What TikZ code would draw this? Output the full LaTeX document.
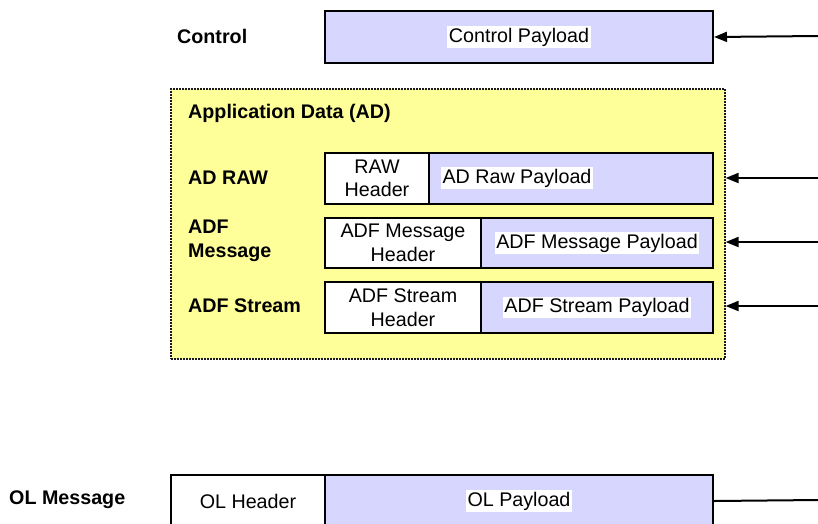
\documentclass[tikz,border=0pt]{standalone}
\usepackage{fontspec}
\setmainfont{Liberation Sans}
\usetikzlibrary{arrows.meta}
\definecolor{payload}{RGB}{214,214,255}
\definecolor{adyellow}{RGB}{255,255,153}

\begin{document}
\begin{tikzpicture}[x=1pt,y=-1pt,
  font=\fontsize{19.7}{23.5}\selectfont,
  field/.style={draw=black, line width=2pt, inner sep=0pt, anchor=north west, align=center},
  hdr/.style={field, fill=white},
  pay/.style={field, fill=payload},
  tag/.style={fill=white, inner sep=1.5pt},
  lbl/.style={font=\fontsize{19.7}{23.5}\selectfont\bfseries, anchor=west, align=left, inner sep=0pt},
  group/.style={draw=black!90, fill=adyellow, line width=1.6pt, dash pattern=on 2pt off 1pt,
                inner sep=0pt, anchor=north west},
  feed/.style={line width=2pt, -{Triangle[length=13pt,width=10pt]}},
  plainfeed/.style={line width=2pt}
]
\clip (0,0) rectangle (818,523);

% Control frame
\node[lbl] (ctllbl) at (177,36) {Control};
\node[pay, minimum width=388pt, minimum height=52pt] (ctl) at (324,10) {};
\node[tag] (ctltag) at (ctl.center) {Control Payload};

% Application data group
\node[group, minimum width=554pt, minimum height=270pt] (ad) at (170,88) {};
\node[lbl] (adlbl) at (188,113) {Application Data (AD)};

% AD RAW
\node[lbl] (rawlbl) at (188,178) {AD RAW};
\node[hdr, minimum width=104pt, minimum height=51pt] (rawhdr) at (324,152) {RAW\\Header};
\node[pay, minimum width=284pt, minimum height=51pt] (rawpay) at (428,152) {};
\node[tag] (rawtag) at (517,178) {AD Raw Payload};

% ADF message
\node[lbl] (msglbl) at (188,241) {ADF\\Message};
\node[hdr, minimum width=156pt, minimum height=50pt] (msghdr) at (324,217) {ADF Message\\Header};
\node[pay, minimum width=232pt, minimum height=50pt] (msgpay) at (480,217) {};
\node[tag] (msgtag) at (msgpay.center) {ADF Message Payload};

% ADF stream
\node[lbl] (strlbl) at (188,306) {ADF Stream};
\node[hdr, minimum width=156pt, minimum height=51pt] (strhdr) at (324,281) {ADF Stream\\Header};
\node[pay, minimum width=232pt, minimum height=51pt] (strpay) at (480,281) {};
\node[tag] (strtag) at (strpay.center) {ADF Stream Payload};

% OL message
\node[lbl] (ollbl) at (9,500) {OL Message};
\node[hdr, minimum width=154pt, minimum height=52pt] (olhdr) at (170,474) {OL Header};
\node[pay, minimum width=388pt, minimum height=52pt] (olpay) at (324,474) {};
\node[tag] (oltag) at (olpay.center) {OL Payload};

% Incoming connectors on the right
\coordinate (ctlin) at (818,36);
\coordinate (rawin) at (818,178);
\coordinate (msgin) at (818,242);
\coordinate (strin) at (818,306);
\coordinate (olout) at (818,500);

\draw[feed] (ctlin) -- (ctl.east);
\draw[feed] (rawin) -- (rawin -| ad.east);
\draw[feed] (msgin) -- (msgin -| ad.east);
\draw[feed] (strin) -- (strin -| ad.east);
\draw[plainfeed] (olpay.east) -- (olout);
\end{tikzpicture}
\end{document}
